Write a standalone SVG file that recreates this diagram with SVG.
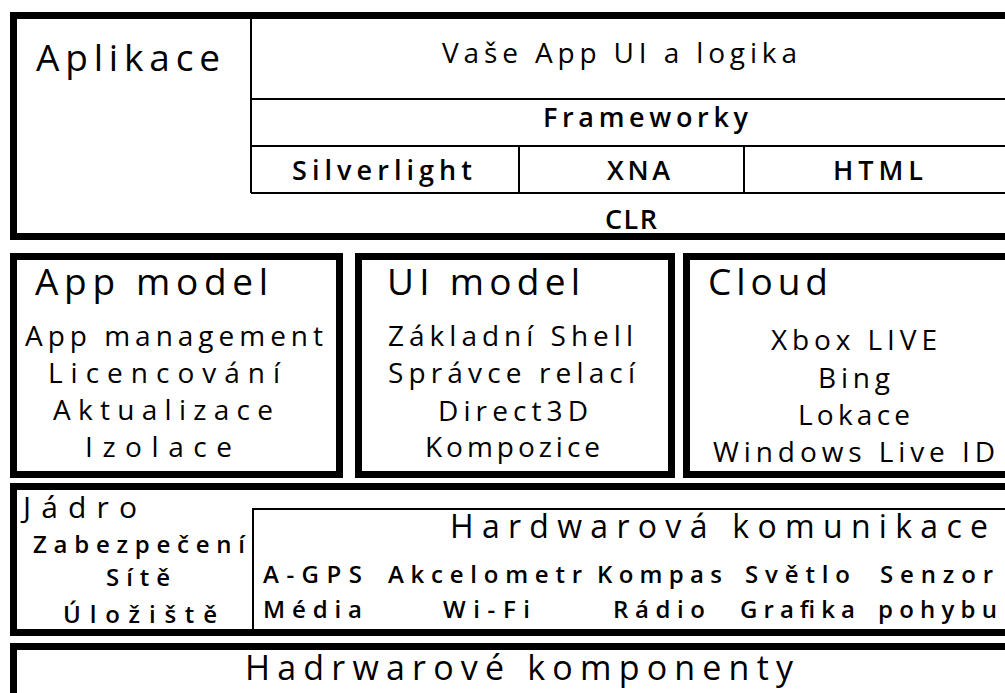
<svg xmlns="http://www.w3.org/2000/svg" width="1005" height="693" viewBox="0 0 1005 693">
<style>
.frame{fill:#fff;stroke:#000;stroke-width:7}
.thin{fill:none;stroke:#000;stroke-width:2}
text{font-family:"Open Sans","Noto Sans","DejaVu Sans",sans-serif;fill:#000}
.h{font-size:37px;font-weight:500}
.m{font-size:28px;font-weight:500}
.s{font-size:27px;font-weight:600}
.i{font-size:28px;font-weight:500}
.r{font-size:24px;font-weight:600}
.hk{font-size:32px;font-weight:500}
</style>
<rect width="1005" height="693" fill="#fff"/>
<g id="aplikace">
<rect class="frame" x="13.5" y="15.5" width="1010" height="221"/>
<path class="thin" d="M251 19V193M251 99H1010M251 146H1010M251 193H1010M519 146V193M744 146V193"/>
<text class="h" x="36" y="71" textLength="184" lengthAdjust="spacing">Aplikace</text>
<text class="m" x="442" y="63" textLength="355" lengthAdjust="spacing">Vaše App UI a logika</text>
<text class="s" x="543" y="127" textLength="205" lengthAdjust="spacing">Frameworky</text>
<text class="s" x="292" y="180" textLength="180" lengthAdjust="spacing">Silverlight</text>
<text class="s" x="607" y="180" textLength="63" lengthAdjust="spacing">XNA</text>
<text class="s" x="833" y="180" textLength="90" lengthAdjust="spacing">HTML</text>
<text class="s" x="605" y="229" textLength="52" lengthAdjust="spacing">CLR</text>
</g>
<g id="app-model">
<rect class="frame" x="13.5" y="256.5" width="326" height="218"/>
<text class="h" x="35" y="295" textLength="233" lengthAdjust="spacing">App model</text>
<text class="i" x="25" y="346" textLength="298" lengthAdjust="spacing">App management</text>
<text class="i" x="48" y="383" textLength="232" lengthAdjust="spacing">Licencování</text>
<text class="i" x="53" y="420" textLength="220" lengthAdjust="spacing">Aktualizace</text>
<text class="i" x="85" y="457" textLength="147" lengthAdjust="spacing">Izolace</text>
</g>
<g id="ui-model">
<rect class="frame" x="358.5" y="256.5" width="313" height="218"/>
<text class="h" x="387" y="295" textLength="193" lengthAdjust="spacing">UI model</text>
<text class="i" x="388" y="346" textLength="245" lengthAdjust="spacing">Základní Shell</text>
<text class="i" x="388" y="383" textLength="247" lengthAdjust="spacing">Správce relací</text>
<text class="i" x="438" y="421" textLength="150" lengthAdjust="spacing">Direct3D</text>
<text class="i" x="425" y="457" textLength="175" lengthAdjust="spacing">Kompozice</text>
</g>
<g id="cloud">
<rect class="frame" x="686.5" y="256.5" width="330" height="218"/>
<text class="h" x="708" y="295" textLength="120" lengthAdjust="spacing">Cloud</text>
<text class="i" x="771" y="350" textLength="166" lengthAdjust="spacing">Xbox LIVE</text>
<text class="i" x="818" y="388" textLength="72" lengthAdjust="spacing">Bing</text>
<text class="i" x="798" y="425" textLength="112" lengthAdjust="spacing">Lokace</text>
<text class="i" x="713" y="462" textLength="282" lengthAdjust="spacing">Windows Live ID</text>
</g>
<g id="jadro">
<rect class="frame" x="13.5" y="486.5" width="1010" height="146"/>
<path class="thin" d="M253 633V509H1010"/>
<text class="h" x="23" y="518" style="font-size:30px" textLength="114" lengthAdjust="spacing">Jádro</text>
<text class="r" x="33" y="553" textLength="212" lengthAdjust="spacing">Zabezpečení</text>
<text class="r" x="106" y="586" textLength="64" lengthAdjust="spacing">Sítě</text>
<text class="r" x="63" y="623" textLength="154" lengthAdjust="spacing">Úložiště</text>
</g>
<g id="hw-komunikace">
<text class="hk" x="450" y="538" textLength="538" lengthAdjust="spacing">Hardwarová komunikace</text>
<text class="r" x="263" y="583" textLength="99" lengthAdjust="spacing">A-GPS</text>
<text class="r" x="388" y="583" textLength="194" lengthAdjust="spacing">Akcelometr</text>
<text class="r" x="597" y="583" textLength="125" lengthAdjust="spacing">Kompas</text>
<text class="r" x="745" y="583" textLength="105" lengthAdjust="spacing">Světlo</text>
<text class="r" x="880" y="583" textLength="113" lengthAdjust="spacing">Senzor</text>
<text class="r" x="263" y="618" textLength="99" lengthAdjust="spacing">Média</text>
<text class="r" x="443" y="618" textLength="87" lengthAdjust="spacing">Wi-Fi</text>
<text class="r" x="613" y="618" textLength="92" lengthAdjust="spacing">Rádio</text>
<text class="r" x="740" y="618" textLength="115" lengthAdjust="spacing">Grafika</text>
<text class="r" x="878" y="618" textLength="119" lengthAdjust="spacing">pohybu</text>
</g>
<g id="hw-komponenty">
<rect class="frame" x="13.5" y="646.5" width="1010" height="80"/>
<text class="h" x="245" y="680" style="font-size:34px" textLength="548" lengthAdjust="spacing">Hadrwarové komponenty</text>
</g>
<g id="connectors"/>
</svg>
